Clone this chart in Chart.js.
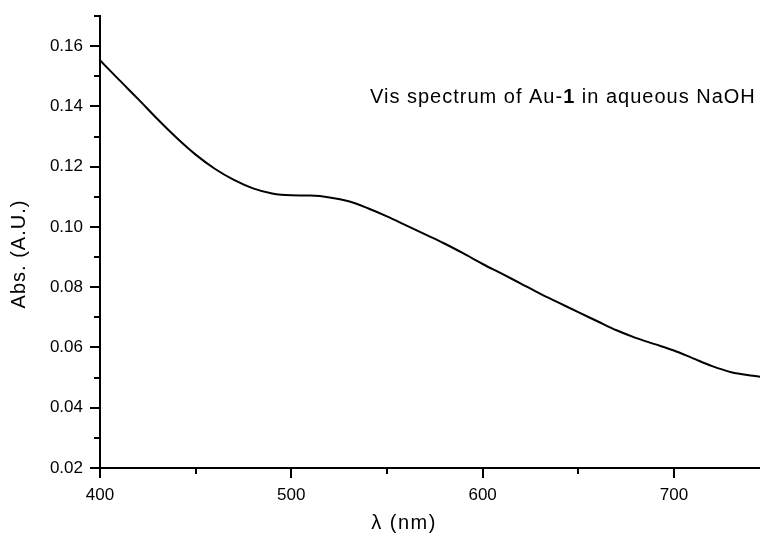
<!DOCTYPE html>
<html>
<head>
<meta charset="utf-8">
<script src="https://cdn.jsdelivr.net/npm/chart.js@4.4.1/dist/chart.umd.min.js"></script>
<style>
  html, body { margin: 0; padding: 0; background: #fff; }
  #wrap { width: 760px; height: 539px; position: relative; }
</style>
</head>
<body>
<div id="wrap"><canvas id="c" width="760" height="539"></canvas></div>
<script>
// Data
const wavelengths = [400,410,420,430,440,450,460,470,480,490,500,510,520,530,540,550,560,570,580,590,600,610,620,630,640,650,660,670,680,690,700,710,720,730,740,745];
const absorbance  = [0.1553,0.1488,0.1424,0.1358,0.1296,0.1240,0.1193,0.1156,0.1128,0.1111,0.1105,0.1104,0.1098,0.1085,0.1062,0.1035,0.1005,0.0975,0.0945,0.0912,0.0877,0.0845,0.0812,0.0779,0.0748,0.0717,0.0687,0.0657,0.0632,0.0611,0.0590,0.0564,0.0538,0.0518,0.0507,0.0503];
const xTickLabels = [400, 500, 600, 700];
const yTickLabels = [0.02, 0.04, 0.06, 0.08, 0.10, 0.12, 0.14, 0.16];
const xTitle = 'λ (nm)';
const yTitle = 'Abs. (A.U.)';
const noteParts = ['Vis spectrum of Au-', '1', ' in aqueous NaOH'];

const FONT = '"Liberation Sans", Arial, Helvetica, sans-serif';

const tickMarks = {
  id: 'tickMarks',
  afterDraw(chart) {
    const ctx = chart.ctx;
    const xs = chart.scales.x, ys = chart.scales.y;
    const area = chart.chartArea;
    ctx.save();
    ctx.strokeStyle = '#000';
    ctx.lineWidth = 2;
    // x ticks: major every 100, minor every 50
    for (let v = xs.min; v <= xs.max + 1e-9; v += 50) {
      const px = Math.round(xs.getPixelForValue(v));
      const len = (v % 100 === 0) ? 10 : 6;
      ctx.beginPath();
      ctx.moveTo(px, area.bottom);
      ctx.lineTo(px, area.bottom + len);
      ctx.stroke();
    }
    // y ticks: major every 0.02, minor every 0.01
    for (let k = 0; ; k++) {
      const v = ys.min + k * 0.01;
      if (v > ys.max + 1e-9) break;
      const py = Math.round(ys.getPixelForValue(v));
      const len = (k % 2 === 0) ? 10 : 6;
      ctx.beginPath();
      ctx.moveTo(area.left, py);
      ctx.lineTo(area.left - len, py);
      ctx.stroke();
    }
    // axis titles
    ctx.fillStyle = '#000';
    ctx.font = '20px ' + FONT;
    ctx.textAlign = 'center';
    ctx.textBaseline = 'middle';
    ctx.letterSpacing = '1.5px';
    ctx.fillText(xTitle, 404, 523);
    ctx.letterSpacing = '1px';
    ctx.save();
    ctx.translate(19, 254);
    ctx.rotate(-Math.PI / 2);
    ctx.fillText(yTitle, 0, 0);
    ctx.restore();
    // annotation
    ctx.textAlign = 'left';
    ctx.letterSpacing = '1px';
    let x = 370;
    const y = 97;
    const fonts = ['20px ' + FONT, 'bold 20px ' + FONT, '20px ' + FONT];
    noteParts.forEach((t, i) => {
      ctx.font = fonts[i];
      ctx.fillText(t, x, y);
      x += ctx.measureText(t).width;
    });
    ctx.restore();
  }
};

new Chart(document.getElementById('c'), {
  type: 'line',
  data: {
    datasets: [{
      data: wavelengths.map((w, i) => ({ x: w, y: absorbance[i] })),
      borderColor: '#000',
      borderWidth: 2,
      pointRadius: 0,
      fill: false,
      cubicInterpolationMode: 'monotone'
    }]
  },
  options: {
    responsive: false,
    animation: false,
    events: [],
    layout: { padding: { top: 16, right: 0, left: 0, bottom: 0 } },
    plugins: { legend: { display: false }, tooltip: { enabled: false }, title: { display: false } },
    scales: {
      x: {
        type: 'linear',
        min: 400,
        max: 745,
        grid: { display: false, drawTicks: false },
        border: { display: true, color: '#000', width: 2 },
        ticks: {
          stepSize: 100,
          includeBounds: false,
          padding: 17,
          color: '#000',
          font: { family: FONT, size: 17 },
          maxRotation: 0,
          callback: v => xTickLabels.includes(v) ? String(v) : ''
        },
        afterFit: s => { s.height = 71; s.paddingLeft = 0; s.paddingRight = 0; }
      },
      y: {
        type: 'linear',
        min: 0.02,
        max: 0.17,
        grid: { display: false, drawTicks: false },
        border: { display: true, color: '#000', width: 2 },
        ticks: {
          stepSize: 0.02,
          includeBounds: false,
          padding: 17,
          color: '#000',
          font: { family: FONT, size: 17 },
          callback: v => {
            const r = Math.round(v * 100) / 100;
            return yTickLabels.some(t => Math.abs(t - r) < 1e-9) ? r.toFixed(2) : '';
          }
        },
        afterFit: s => { s.width = 100; s.paddingTop = 0; s.paddingBottom = 0; }
      }
    }
  },
  plugins: [tickMarks]
});
</script>
</body>
</html>
